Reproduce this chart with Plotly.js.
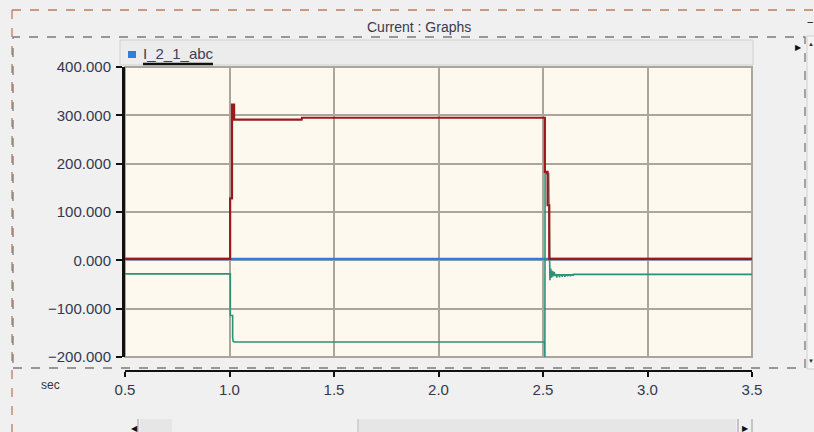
<!DOCTYPE html>
<html>
<head>
<meta charset="utf-8">
<script src="https://cdn.plot.ly/plotly-3.0.1.min.js"></script>
<style>
  html, body { margin: 0; padding: 0; background: #f0f0f0; }
  #chart { width: 814px; height: 432px; }
</style>
</head>
<body>
<div id="chart"></div>
<script>
// Three-phase current I_2_1_abc (A) against simulation time (sec)
const phaseA_t = [0.5, 1.003, 1.003, 1.012, 1.012, 1.022, 1.022, 1.345, 1.347, 2.509, 2.509, 2.522, 2.522, 2.530, 2.530, 3.5];
const phaseA_i = [3, 3, 128, 128, 322, 322, 291, 291, 295, 295, 183, 183, 114, 114, 3, 3];

const phaseB_t = [0.5, 3.5];
const phaseB_i = [3, 3];

const phaseC_t = [0.5, 1.004, 1.004, 1.015, 1.015, 1.018, 1.023, 2.508, 2.509, 2.510, 2.527, 2.530,
                  2.533, 2.537, 2.541, 2.545, 2.549, 2.553, 2.558, 2.564, 2.566, 2.568, 2.577, 2.579,
                  2.581, 2.590, 2.592, 2.594, 2.603, 2.605, 2.607, 2.616, 2.618, 2.620, 2.629, 2.631,
                  2.633, 2.642, 2.644, 2.646, 2.655, 2.657, 3.5];
const phaseC_i = [-28, -28, -114, -114, -160, -168, -169, -169, -200, 179, 179, -21,
                  -41, -17, -36, -22, -33, -24, -31, -30, -36, -30, -30, -35,
                  -30, -30, -34, -30, -30, -34, -30, -30, -33, -30, -30, -33,
                  -30, -30, -32, -29, -29, -29, -29];

const xTickVals = [0.5, 1.0, 1.5, 2.0, 2.5, 3.0, 3.5];
const yTickVals = [-200, -100, 0, 100, 200, 300, 400];

const panelTitle = 'Current : Graphs';
const signalName = 'I_2_1_abc';
const timeUnit = 'sec';

// plot-area frame in page pixels
const L = 125, R = 752, T = 67, B = 371, PLOT_BOTTOM = 357;
const px = x => (x - L) / (R - L);
const py = y => (B - y) / (B - T);

const FONT = 'Liberation Sans, Arial, sans-serif';
const gridColor = '#aaa69e';
const labelColor = '#34384f';
const labelFont = { family: FONT, size: 15, color: labelColor };
const blue = '#2f7fd6';

// phase a sits on the overlaid time axis so it is drawn on top of b and c
const traces = [
  { x: phaseB_t, y: phaseB_i, name: 'b', type: 'scatter', mode: 'lines',
    line: { color: blue, width: 2.5 }, showlegend: false, hoverinfo: 'skip' },
  { x: phaseC_t, y: phaseC_i, name: 'c', type: 'scatter', mode: 'lines',
    line: { color: '#2b9279', width: 1.6 }, showlegend: false, hoverinfo: 'skip' },
  { x: phaseA_t, y: phaseA_i, name: 'a', type: 'scatter', mode: 'lines', xaxis: 'x2', yaxis: 'y',
    line: { color: '#9a1a1c', width: 2.2 }, showlegend: false, hoverinfo: 'skip' }
];

const shapes = [
  // plot frame
  { type: 'rect', xref: 'x domain', yref: 'y domain', x0: 0, x1: 1, y0: 0, y1: 1,
    line: { color: gridColor, width: 2 }, layer: 'below' },
  // legend header bar
  { type: 'rect', xref: 'paper', yref: 'paper', x0: px(120), x1: px(753), y0: py(65), y1: py(40),
    fillcolor: '#ececec', line: { color: '#d0d0d0', width: 1 } },
  // legend swatch
  { type: 'rect', xref: 'paper', yref: 'paper', x0: px(128), x1: px(136), y0: py(58), y1: py(51),
    fillcolor: blue, line: { width: 0 } },
  // legend tab underline
  { type: 'line', xref: 'paper', yref: 'paper', x0: px(143), x1: px(213), y0: py(64), y1: py(64),
    line: { color: '#111111', width: 2.5 } },
  // outer dashed frame
  { type: 'line', xref: 'paper', yref: 'paper', x0: px(12), x1: px(814), y0: py(10), y1: py(10),
    line: { color: '#c27a5a', width: 1.3, dash: 'dash' } },
  { type: 'line', xref: 'paper', yref: 'paper', x0: px(12), x1: px(12), y0: py(10), y1: py(432),
    line: { color: '#c27a5a', width: 1.3, dash: 'dash' } },
  // inner dashed graph frame
  { type: 'rect', xref: 'paper', yref: 'paper', x0: px(13), x1: px(805), y0: py(368), y1: py(37),
    line: { color: '#7a7a7a', width: 1.3, dash: 'dash' } },
  // right scroll strip
  { type: 'rect', xref: 'paper', yref: 'paper', x0: px(807), x1: px(816), y0: py(369), y1: py(36),
    fillcolor: '#f4f4f4', line: { color: '#cfcfcf', width: 1 } },
  // bottom scroll bar pieces
  { type: 'rect', xref: 'paper', yref: 'paper', x0: px(140), x1: px(172), y0: py(434), y1: py(419),
    fillcolor: '#e6e6e6', line: { width: 0 } },
  { type: 'rect', xref: 'paper', yref: 'paper', x0: px(358), x1: px(736), y0: py(434), y1: py(419),
    fillcolor: '#e6e6e6', line: { width: 0 } },
  { type: 'line', xref: 'paper', yref: 'paper', x0: px(358), x1: px(358), y0: py(434), y1: py(419),
    line: { color: '#bbbbbb', width: 1 } },
  { type: 'line', xref: 'paper', yref: 'paper', x0: px(138), x1: px(138), y0: py(434), y1: py(419),
    line: { color: '#999999', width: 1 } },
  { type: 'line', xref: 'paper', yref: 'paper', x0: px(738), x1: px(738), y0: py(434), y1: py(419),
    line: { color: '#999999', width: 1 } },
  { type: 'line', xref: 'paper', yref: 'paper', x0: px(752), x1: px(752), y0: py(434), y1: py(419),
    line: { color: '#999999', width: 1 } }
];

const note = (text, x, y, font, xanchor) => ({
  text: text, xref: 'paper', yref: 'paper', x: px(x), y: py(y),
  xanchor: xanchor || 'center', yanchor: 'middle', showarrow: false, font: font
});

const annotations = [
  note(panelTitle, 419, 27, { family: FONT, size: 14, color: '#3a3a4c' }),
  note(signalName, 141, 54, { family: FONT, size: 15, color: '#3a3f5c' }, 'left'),
  note(timeUnit, 50, 385, { family: FONT, size: 12, color: '#333344' }),
  note('▶', 798, 46, { size: 8, color: '#111111' }),
  note('▲', 811, 44, { size: 6, color: '#333333' }),
  note('▼', 811, 361, { size: 6, color: '#333333' }),
  note('−', 810, 22, { size: 12, color: '#111111' }),
  note('◀', 134, 427, { size: 8, color: '#111111' }),
  note('▶', 745, 427, { size: 8, color: '#111111' })
];

const layout = {
  width: 814, height: 432,
  margin: { l: L, r: 814 - R, t: T, b: 432 - B, pad: 0 },
  paper_bgcolor: '#f0f0f0',
  plot_bgcolor: '#fdf9ee',
  showlegend: false,
  xaxis: {
    range: [0.5, 3.5], tickvals: xTickVals, showticklabels: false, ticks: '',
    showgrid: true, gridcolor: gridColor, gridwidth: 2, zeroline: false, showline: false,
    anchor: 'y', fixedrange: true
  },
  xaxis2: {
    overlaying: 'x', anchor: 'free', position: 0, side: 'bottom',
    range: [0.5, 3.5], tickvals: xTickVals, tickformat: '.1f',
    ticks: 'outside', ticklen: 5, tickwidth: 2, tickcolor: '#111111',
    showline: true, linecolor: '#111111', linewidth: 2,
    showgrid: false, zeroline: false, tickfont: labelFont, fixedrange: true
  },
  yaxis: {
    domain: [(B - PLOT_BOTTOM) / (B - T), 1], anchor: 'x',
    range: [-200, 400], tickvals: yTickVals, tickformat: '.3f',
    ticks: 'outside', ticklen: 6, tickwidth: 2, tickcolor: '#111111',
    showline: true, linecolor: '#111111', linewidth: 3,
    showgrid: true, gridcolor: gridColor, gridwidth: 2, zeroline: false,
    tickfont: labelFont, ticklabelstandoff: 2, fixedrange: true
  },
  shapes: shapes,
  annotations: annotations
};

Plotly.newPlot('chart', traces, layout, { displayModeBar: false, staticPlot: true });
</script>
</body>
</html>
